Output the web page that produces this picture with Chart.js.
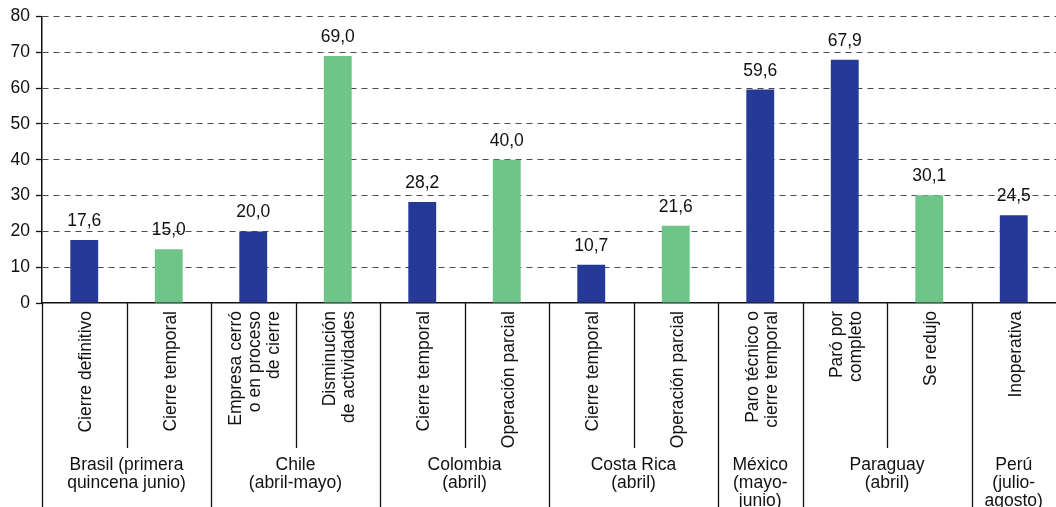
<!DOCTYPE html>
<html>
<head>
<meta charset="utf-8">
<script src="https://cdn.jsdelivr.net/npm/chart.js@4/dist/chart.umd.min.js"></script>
<style>
  html, body { margin: 0; padding: 0; background: #fff; }
  #wrap { width: 1056px; height: 507px; position: relative; }
</style>
</head>
<body>
<div id="wrap"><canvas id="chart"></canvas></div>
<script>
// ── Data ──────────────────────────────────────────────────────────────────────
const categories = [
    ["Cierre definitivo"],
    ["Cierre temporal"],
    ["Empresa cerró", "o en proceso", "de cierre"],
    ["Disminución", "de actividades"],
    ["Cierre temporal"],
    ["Operación parcial"],
    ["Cierre temporal"],
    ["Operación parcial"],
    ["Paro técnico o", "cierre temporal"],
    ["Paró por", "completo"],
    ["Se redujo"],
    ["Inoperativa"]
];
const values = [17.6, 15.0, 20.0, 69.0, 28.2, 40.0, 10.7, 21.6, 59.6, 67.9, 30.1, 24.5];
const barKind = ["b", "g", "b", "g", "b", "g", "b", "g", "b", "b", "g", "b"];

const groupLabels = [
    ["Brasil (primera", "quincena junio)"],
    ["Chile", "(abril-mayo)"],
    ["Colombia", "(abril)"],
    ["Costa Rica", "(abril)"],
    ["México", "(mayo-", "junio)"],
    ["Paraguay", "(abril)"],
    ["Perú", "(julio-", "agosto)"]
];
const groupSpans = [2, 2, 2, 2, 1, 2, 1];

const yTicks = [0, 10, 20, 30, 40, 50, 60, 70, 80];

const BLUE = "#243a96";
const GREEN = "#6fc487";
const FAMILY = "'Liberation Sans', Arial, sans-serif";
const FONT = "17.5px " + FAMILY;

// ── Plugin: value labels, rotated category labels, separators, groups ───────
const annotate = {
    id: "annotate",
    afterDraw(chart) {
        const ctx = chart.ctx;
        const area = chart.chartArea;
        const xs = chart.scales.x;
        const meta = chart.getDatasetMeta(0);
        const step = (area.right - area.left) / categories.length;
        const H = chart.height;

        ctx.save();
        ctx.fillStyle = "#111";
        ctx.font = FONT;

        // values above bars
        ctx.textAlign = "center";
        ctx.textBaseline = "alphabetic";
        meta.data.forEach((bar, i) => {
            ctx.fillText(values[i].toFixed(1).replace(".", ","), bar.x, bar.y - 14);
        });

        // rotated category labels
        ctx.textAlign = "right";
        ctx.textBaseline = "middle";
        categories.forEach((lines, i) => {
            const cx = xs.getPixelForValue(i);
            const n = lines.length;
            lines.forEach((t, j) => {
                ctx.save();
                ctx.translate(cx + (j - (n - 1) / 2) * 19 + 2, area.bottom + 8);
                ctx.rotate(-Math.PI / 2);
                ctx.fillText(t, 0, 0);
                ctx.restore();
            });
        });

        // separators
        const groupEdges = [0];
        groupSpans.forEach(s => groupEdges.push(groupEdges[groupEdges.length - 1] + s));
        ctx.strokeStyle = "#111";
        ctx.lineWidth = 1.3;
        for (let k = 0; k < categories.length; k++) {
            const x = Math.round(area.left + step * k) + 0.5;
            const isGroup = groupEdges.includes(k);
            ctx.beginPath();
            ctx.moveTo(x, area.bottom);
            ctx.lineTo(x, isGroup ? H : area.bottom + 145);
            ctx.stroke();
        }

        // group labels
        ctx.textAlign = "center";
        ctx.textBaseline = "middle";
        groupLabels.forEach((lines, g) => {
            const cx = area.left + step * (groupEdges[g] + groupSpans[g] / 2);
            lines.forEach((t, j) => {
                ctx.fillText(t, cx, area.bottom + 162 + j * 18);
            });
        });

        ctx.restore();
    }
};

// ── Chart ────────────────────────────────────────────────────────────────────
new Chart(document.getElementById("chart"), {
    type: "bar",
    data: {
        labels: categories.map(c => c.join(" ")),
        datasets: [{
            data: values,
            backgroundColor: barKind.map(k => k === "b" ? BLUE : GREEN),
            borderWidth: 0,
            barPercentage: 0.33,
            categoryPercentage: 1
        }]
    },
    options: {
        responsive: true,
        maintainAspectRatio: false,
        animation: false,
        layout: { padding: { top: 16, right: 0, left: 0, bottom: 0 } },
        plugins: {
            legend: { display: false },
            tooltip: { enabled: false }
        },
        scales: {
            x: {
                ticks: { display: false },
                grid: { display: false },
                border: { display: true, color: "#111", width: 1.5 },
                afterFit: s => { s.height = 204; }
            },
            y: {
                min: 0,
                max: 80,
                afterBuildTicks: s => { s.ticks = yTicks.map(v => ({ value: v })); },
                ticks: {
                    color: "#111",
                    font: { family: FAMILY, size: 17.5 },
                    padding: 6
                },
                grid: {
                    color: c => (c.tick && c.tick.value === 0) ? "rgba(0,0,0,0)" : "#4a4a4a",
                    lineWidth: 1,
                    tickLength: 6,
                    tickColor: "#111",
                    tickWidth: 1.3,
                    tickBorderDash: []
                },
                border: { display: true, color: "#111", width: 1.5, dash: [6, 5] },
                afterFit: s => { s.width = 42; }
            }
        }
    },
    plugins: [annotate]
});
</script>
</body>
</html>
